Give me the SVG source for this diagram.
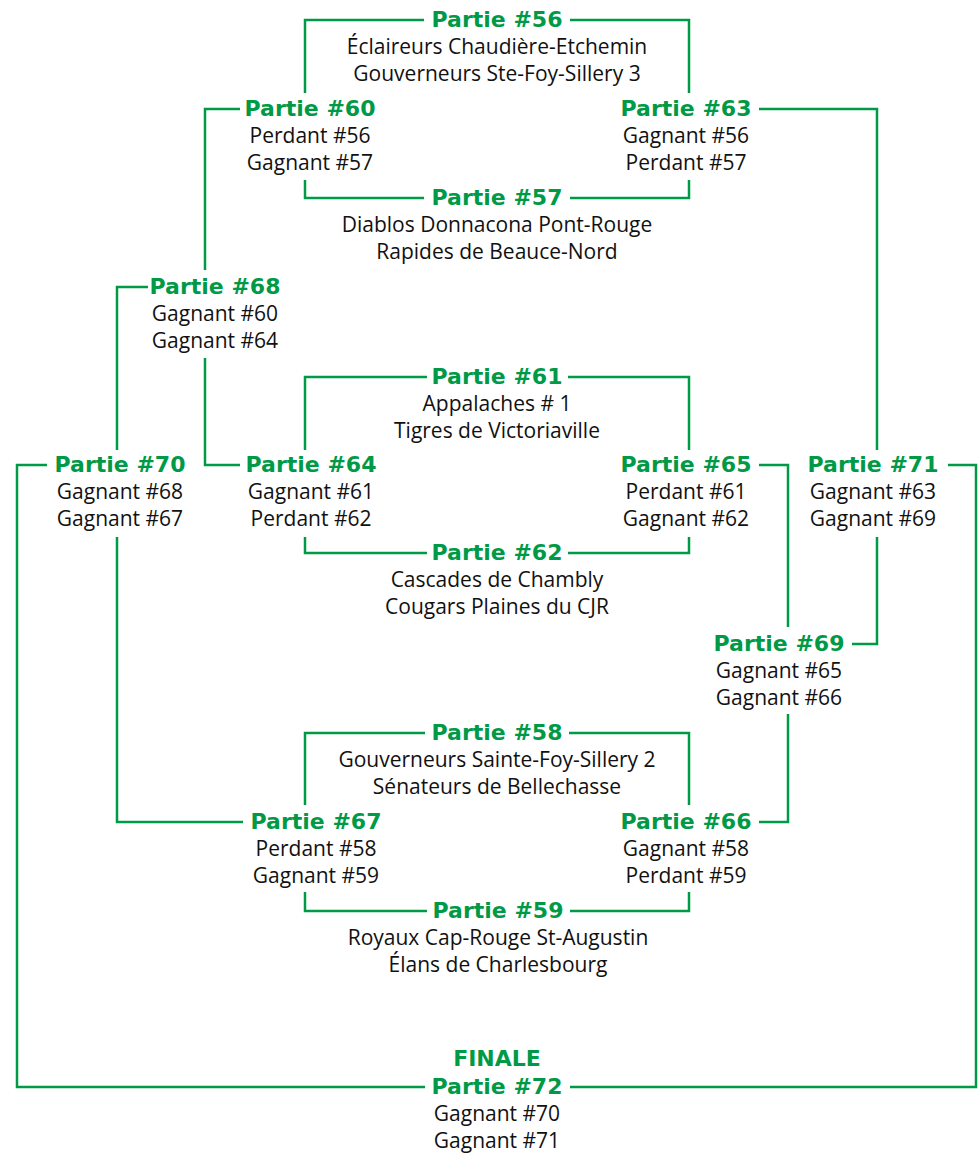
<svg xmlns="http://www.w3.org/2000/svg" width="978" height="1156" viewBox="0 0 978 1156">
<style>
.c{fill:none;stroke:#009a47;stroke-width:2.5;stroke-linecap:butt;stroke-linejoin:miter}
.t{font-family:"DejaVu Sans",sans-serif;font-weight:bold;font-size:22px;fill:#009a47;text-anchor:middle}
.l{font-family:"Open Sans","Noto Sans",sans-serif;font-size:21px;fill:#111;text-anchor:middle}
</style>
<rect width="978" height="1156" fill="#fff"/>
<g id="connectors">
<path class="c" d="M305 93V20H424M570 20H689V93"/>
<path class="c" d="M305 180V198H424M570 198H689V180"/>
<path class="c" d="M240 109H205V270"/>
<path class="c" d="M759 109H877V450"/>
<path class="c" d="M148 287H117V450"/>
<path class="c" d="M205 358V465H240"/>
<path class="c" d="M305 450V377H427M568 377H689V450"/>
<path class="c" d="M305 537V553H427M568 553H689V537"/>
<path class="c" d="M759 465H788V627"/>
<path class="c" d="M47 465H17V1087H425M570 1087H976V465H948"/>
<path class="c" d="M117 537V822H243"/>
<path class="c" d="M877 537V644H852"/>
<path class="c" d="M788 714V822H759"/>
<path class="c" d="M305 805V733H425M569 733H689V805"/>
<path class="c" d="M305 892V911H427M570 911H689V892"/>
</g>
<g id="p56"><text class="t" x="497" y="27">Partie #56</text><text class="l" x="497" y="54">Éclaireurs Chaudière-Etchemin</text><text class="l" x="497" y="81">Gouverneurs Ste-Foy-Sillery 3</text></g>
<g id="p60"><text class="t" x="310" y="116">Partie #60</text><text class="l" x="310" y="143">Perdant #56</text><text class="l" x="310" y="170">Gagnant #57</text></g>
<g id="p63"><text class="t" x="686" y="116">Partie #63</text><text class="l" x="686" y="143">Gagnant #56</text><text class="l" x="686" y="170">Perdant #57</text></g>
<g id="p57"><text class="t" x="497" y="205">Partie #57</text><text class="l" x="497" y="232">Diablos Donnacona Pont-Rouge</text><text class="l" x="497" y="259">Rapides de Beauce-Nord</text></g>
<g id="p68"><text class="t" x="215" y="294">Partie #68</text><text class="l" x="215" y="321">Gagnant #60</text><text class="l" x="215" y="348">Gagnant #64</text></g>
<g id="p61"><text class="t" x="497" y="384">Partie #61</text><text class="l" x="497" y="411">Appalaches # 1</text><text class="l" x="497" y="438">Tigres de Victoriaville</text></g>
<g id="p70"><text class="t" x="120" y="472">Partie #70</text><text class="l" x="120" y="499">Gagnant #68</text><text class="l" x="120" y="526">Gagnant #67</text></g>
<g id="p64"><text class="t" x="311" y="472">Partie #64</text><text class="l" x="311" y="499">Gagnant #61</text><text class="l" x="311" y="526">Perdant #62</text></g>
<g id="p65"><text class="t" x="686" y="472">Partie #65</text><text class="l" x="686" y="499">Perdant #61</text><text class="l" x="686" y="526">Gagnant #62</text></g>
<g id="p71"><text class="t" x="873" y="472">Partie #71</text><text class="l" x="873" y="499">Gagnant #63</text><text class="l" x="873" y="526">Gagnant #69</text></g>
<g id="p62"><text class="t" x="497" y="560">Partie #62</text><text class="l" x="497" y="587">Cascades de Chambly</text><text class="l" x="497" y="614">Cougars Plaines du CJR</text></g>
<g id="p69"><text class="t" x="779" y="651">Partie #69</text><text class="l" x="779" y="678">Gagnant #65</text><text class="l" x="779" y="705">Gagnant #66</text></g>
<g id="p58"><text class="t" x="497" y="740">Partie #58</text><text class="l" x="497" y="767">Gouverneurs Sainte-Foy-Sillery 2</text><text class="l" x="497" y="794">Sénateurs de Bellechasse</text></g>
<g id="p67"><text class="t" x="316" y="829">Partie #67</text><text class="l" x="316" y="856">Perdant #58</text><text class="l" x="316" y="883">Gagnant #59</text></g>
<g id="p66"><text class="t" x="686" y="829">Partie #66</text><text class="l" x="686" y="856">Gagnant #58</text><text class="l" x="686" y="883">Perdant #59</text></g>
<g id="p59"><text class="t" x="498" y="918">Partie #59</text><text class="l" x="498" y="945">Royaux Cap-Rouge St-Augustin</text><text class="l" x="498" y="972">Élans de Charlesbourg</text></g>
<g id="p72"><text class="t" x="497" y="1066">FINALE</text><text class="t" x="497" y="1094">Partie #72</text><text class="l" x="497" y="1121">Gagnant #70</text><text class="l" x="497" y="1148">Gagnant #71</text></g>
</svg>
